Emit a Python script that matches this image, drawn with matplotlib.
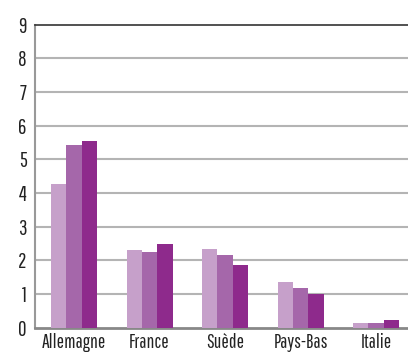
import matplotlib
matplotlib.use("Agg")
import matplotlib.pyplot as plt
import numpy as np
from matplotlib import font_manager

categories = ["Allemagne", "France", "Suède", "Pays-Bas", "Italie"]
serie_a = [4.27, 2.31, 2.34, 1.36, 0.15]
serie_b = [5.42, 2.25, 2.17, 1.19, 0.15]
serie_c = [5.54, 2.48, 1.87, 1.01, 0.24]
yticks = [0, 1, 2, 3, 4, 5, 6, 7, 8, 9]

available = {f.name for f in font_manager.fontManager.ttflist}
family = "DejaVu Sans"
for cand in ["Pathway Gothic One", "Roboto Condensed", "Archivo Narrow",
             "PT Sans Narrow", "Liberation Sans Narrow", "Oswald"]:
    if cand in available:
        family = cand
        break
plt.rcParams["font.family"] = [family, "DejaVu Sans"]

fig = plt.figure(figsize=(4.08, 3.53), dpi=100)
ax = fig.add_axes([35 / 408, 1 - 327.7 / 353, 1 - 35 / 408, (327.7 - 24.5) / 353])

x = np.arange(len(categories))
w = 0.203
colors = ["#c6a0ca", "#a567aa", "#8e2a8c"]
for i, (vals, c) in enumerate(zip([serie_a, serie_b, serie_c], colors)):
    ax.bar(x + (i - 1) * w, vals, width=w, color=c, zorder=3)

ax.set_ylim(0, 9)
ax.set_xlim(-0.517, 4.423)
ax.set_yticks(yticks)
ax.set_yticklabels([str(t) for t in yticks], fontsize=15, color="#222222",
                   fontweight="light")
ax.set_xticks(x)
ax.set_xticklabels(categories, fontsize=14, color="#222222", fontweight="light")
ax.tick_params(axis="y", length=0, pad=6)
ax.tick_params(axis="x", length=0, pad=4)

for t in yticks[1:-1]:
    ax.axhline(t, color="#b4b4b4", lw=1.5, zorder=1)

ax.spines["right"].set_visible(False)
ax.spines["top"].set_color("#333333")
ax.spines["top"].set_linewidth(1.2)
ax.spines["left"].set_color("#999999")
ax.spines["left"].set_linewidth(1.5)
ax.spines["bottom"].set_color("#888888")
ax.spines["bottom"].set_linewidth(2)

fig.savefig("out.png", dpi=100)
